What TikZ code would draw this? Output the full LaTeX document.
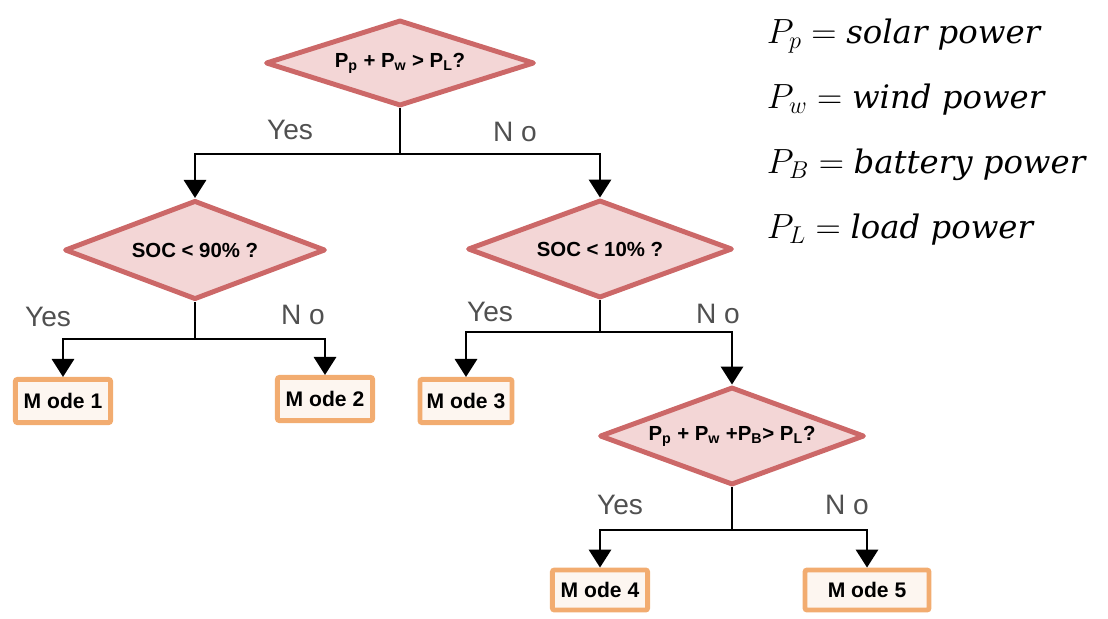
\documentclass[tikz,border=0pt]{standalone}
\usepackage{fontspec}
\setsansfont{Liberation Sans}
\newfontfamily\legendfont{DejaVu Serif}
\usetikzlibrary{shapes.geometric,arrows.meta}
\definecolor{rosefill}{RGB}{243,214,214}
\definecolor{roseline}{RGB}{204,104,104}
\definecolor{modefill}{RGB}{253,246,240}
\definecolor{modeline}{RGB}{242,172,112}
\definecolor{labgray}{RGB}{80,80,80}

\begin{document}
\begin{tikzpicture}[x=0.025cm,y=-0.025cm,
  test/.style={diamond,draw=roseline,fill=rosefill,line width=3.5pt,line join=round,
    inner sep=0pt,aspect=2.7,font=\sffamily\bfseries\fontsize{14.5}{16}\selectfont},
  mode/.style={rectangle,rounded corners=1.5pt,draw=modeline,fill=modefill,line width=3.5pt,
    inner sep=0pt,font=\sffamily\bfseries\fontsize{15}{17}\selectfont},
  flow/.style={line width=1.4pt,-{Triangle[width=0.56cm,length=0.45cm]}},
  ans/.style={text=labgray,font=\sffamily\fontsize{20}{22}\selectfont},
  legend/.style={anchor=base west,font=\fontsize{24}{28}\selectfont}]
\useasboundingbox (0,0) rectangle (1108,618);
% tests
\node[test,minimum width=6.72cm,minimum height=2.15cm] (d1) at (400,63)
  {P\textsubscript{p} + P\textsubscript{w} > P\textsubscript{L}?};
\node[test,minimum width=6.52cm,minimum height=2.48cm] (d2) at (195,250) {SOC < 90\% ?};
\node[test,minimum width=6.62cm,minimum height=2.45cm] (d3) at (600,249) {SOC < 10\% ?};
\node[test,minimum width=6.62cm,minimum height=2.45cm] (d4) at (732,436)
  {P\textsubscript{p} + P\textsubscript{w} +P\textsubscript{B}> P\textsubscript{L}?};
% modes
\node[mode,minimum width=2.38cm,minimum height=1.08cm] (m1) at (63,401) {M ode 1};
\node[mode,minimum width=2.38cm,minimum height=1.08cm] (m2) at (325,399) {M ode 2};
\node[mode,minimum width=2.3cm,minimum height=1.08cm] (m3) at (466,401) {M ode 3};
\node[mode,minimum width=2.38cm,minimum height=1.0cm] (m4) at (600,590) {M ode 4};
\node[mode,minimum width=3.1cm,minimum height=1.0cm] (m5) at (867,590) {M ode 5};
% branches
\coordinate (j1) at (400,154);
\coordinate (j2) at (195,339);
\coordinate (j3) at (600,332);
\coordinate (j4) at (732,530);
\draw[line width=1.4pt] (d1.south) -- (j1);
\draw[flow] (j1) -| (d2.north);
\draw[flow] (j1) -| (d3.north);
\draw[line width=1.4pt] (d2.south) -- (j2);
\draw[flow] (j2) -| (m1.north);
\draw[flow] (j2) -| (m2.north);
\draw[line width=1.4pt] (d3.south) -- (j3);
\draw[flow] (j3) -| (m3.north);
\draw[flow] (j3) -| (d4.north);
\draw[line width=1.4pt] (d4.south) -- (j4);
\draw[flow] (j4) -| (m4.north);
\draw[flow] (j4) -| (m5.north);
% answers
\node[ans] (y1) at (290,130) {Yes};
\node[ans] (n1) at (515,132) {N o};
\node[ans] (y2) at (48,317) {Yes};
\node[ans] (n2) at (303,315) {N o};
\node[ans] (y3) at (490,312) {Yes};
\node[ans] (n3) at (718,314) {N o};
\node[ans] (y4) at (620,505) {Yes};
\node[ans] (n4) at (847,505) {N o};
% legend
\node[legend] (lp) at (762,43) {$P_p = \mbox{\legendfont\itshape\fontsize{23}{26}\selectfont solar power}$};
\node[legend] (lw) at (762,108) {$P_w = \mbox{\legendfont\itshape\fontsize{23}{26}\selectfont wind power}$};
\node[legend] (lb) at (762,173) {$P_B = \mbox{\legendfont\itshape\fontsize{23}{26}\selectfont battery power}$};
\node[legend] (ll) at (762,238) {$P_L = \mbox{\legendfont\itshape\fontsize{23}{26}\selectfont load power}$};
\end{tikzpicture}
\end{document}
